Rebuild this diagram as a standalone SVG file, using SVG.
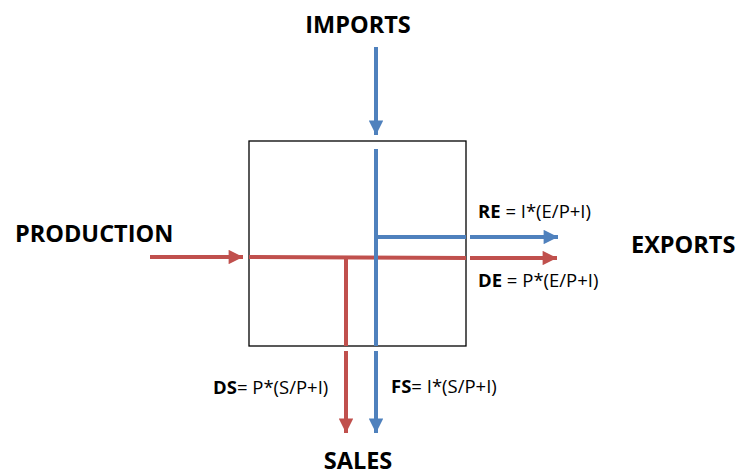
<svg xmlns="http://www.w3.org/2000/svg" width="742" height="475" viewBox="0 0 742 475">
<style>
.t{font-family:"Open Sans","Liberation Sans",sans-serif;fill:#000}
.big{font-size:23.5px;font-weight:bold}
.sm{font-size:18.5px}
.b{font-weight:bold}
.red{stroke:#C0504D;stroke-width:4;fill:none}
.blue{stroke:#4F81BD;stroke-width:4;fill:none}
</style>
<defs>
<marker id="ar" viewBox="0 0 10 10" refX="10" refY="5" markerWidth="4" markerHeight="3.6" orient="auto" markerUnits="strokeWidth"><path d="M0,0L10,5L0,10z" fill="#C0504D"/></marker>
<marker id="ab" viewBox="0 0 10 10" refX="10" refY="5" markerWidth="4" markerHeight="3.6" orient="auto" markerUnits="strokeWidth"><path d="M0,0L10,5L0,10z" fill="#4F81BD"/></marker>
</defs>
<rect width="742" height="475" fill="#fff"/>
<g id="box"><rect x="249" y="141" width="217" height="205" fill="none" stroke="#000" stroke-width="1.3"/></g>
<g id="connectors">
<line class="blue" x1="376" y1="47" x2="376" y2="135" marker-end="url(#ab)"/>
<line class="red" x1="150" y1="257" x2="243" y2="257" marker-end="url(#ar)"/>
<line class="red" x1="249" y1="257" x2="466" y2="258"/>
<line class="red" x1="470" y1="258" x2="557" y2="258" marker-end="url(#ar)"/>
<line class="red" x1="346" y1="257" x2="346" y2="346"/>
<line class="red" x1="346" y1="351" x2="346" y2="433" marker-end="url(#ar)"/>
<line class="blue" x1="376" y1="149" x2="376" y2="346"/>
<line class="blue" x1="376" y1="351" x2="376" y2="433" marker-end="url(#ab)"/>
<line class="blue" x1="376" y1="237" x2="466" y2="237"/>
<line class="blue" x1="470" y1="237" x2="558" y2="237" marker-end="url(#ab)"/>
</g>
<g id="imports"><text class="t big" x="358" y="33" text-anchor="middle">IMPORTS</text></g>
<g id="production"><text class="t big" x="15" y="242">PRODUCTION</text></g>
<g id="exports"><text class="t big" x="631" y="253">EXPORTS</text></g>
<g id="sales"><text class="t big" x="358" y="469" text-anchor="middle">SALES</text></g>
<g id="re"><text class="t sm" x="478" y="218"><tspan class="b">RE</tspan> = I*(E/P+I)</text></g>
<g id="de"><text class="t sm" x="478" y="287"><tspan class="b">DE</tspan> = P*(E/P+I)</text></g>
<g id="ds"><text class="t sm" x="213" y="394"><tspan class="b">DS</tspan>= P*(S/P+I)</text></g>
<g id="fs"><text class="t sm" x="391" y="393"><tspan class="b">FS</tspan>= I*(S/P+I)</text></g>
</svg>
